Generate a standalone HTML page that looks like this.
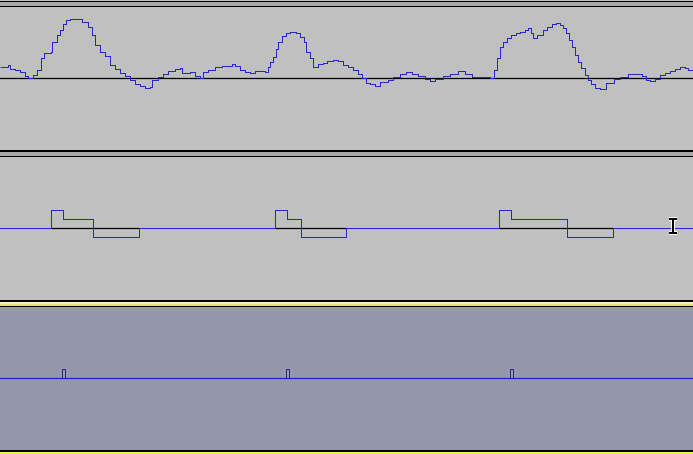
<!DOCTYPE html>
<html><head><meta charset="utf-8"><style>
html,body{margin:0;padding:0;width:693px;height:454px;overflow:hidden;background:#c0c0c0}
svg{display:block}
</style></head><body>
<svg id="c" width="693" height="454">
<rect x="0" y="0" width="693" height="454" fill="#c0c0c0"/>
<rect x="0" y="1" width="693" height="1" fill="#000"/>
<rect x="0" y="2" width="693" height="4" fill="#a8a8a8"/>
<rect x="0" y="6" width="693" height="1" fill="#000"/>
<g id="t1"></g>
<rect x="0" y="150" width="693" height="2" fill="#000"/>
<rect x="0" y="152" width="693" height="4" fill="#a8a8a8"/>
<rect x="0" y="156" width="693" height="1" fill="#000"/>
<g id="t2"></g>
<rect x="0" y="300" width="693" height="2" fill="#000"/>
<rect x="0" y="302" width="693" height="2" fill="#f4f0b0"/>
<rect x="0" y="304" width="693" height="2" fill="#e8e070"/>
<rect x="0" y="306" width="693" height="1" fill="#000"/>
<rect x="0" y="307" width="693" height="143" fill="#9497ab"/>
<g id="t3"></g>
<rect x="0" y="450" width="693" height="2" fill="#000"/>
<rect x="0" y="452" width="693" height="2" fill="#f0f040"/>
<g stroke="#000" stroke-width="2" fill="none">
<path d="M669 219h8M669 233h8M673 219v14" stroke="#fff" stroke-width="4"/>
<path d="M669 219h8M669 233h8M673 219v14"/>
</g>
</svg>
<script>
const waveX=[0,8,10,15,20,25,28,33,37,41,44,51,52,57,60,63,66,70,82,88,92,95,100,105,110,115,120,125,130,135,140,145,150,152,158,163,168,175,180,182,190,195,200,203,208,215,222,232,235,240,245,250,255,265,268,270,273,276,278,282,286,290,296,300,304,306,310,313,318,323,327,333,338,343,348,353,358,362,366,370,375,380,388,393,400,406,412,418,425,430,435,443,450,458,465,472,478,485,490,494,497,500,503,507,511,516,520,525,528,531,533,537,543,547,552,556,560,563,566,569,572,575,578,581,585,588,591,595,600,606,612,614,620,628,635,642,646,650,655,660,665,670,675,680,685,688,693];
const waveV=[11,13,9,8,6,2,0,3,8,20,25,26,36,43,48,54,58,59,56,51,43,33,26,22,13,9,5,2,-2,-6,-8,-10,-9,-2,1,4,7,9,10,5,6,2,0,6,8,11,12,14,12,8,6,5,7,6,11,16,21,29,36,42,45,46,45,41,36,26,20,11,14,15,17,18,17,13,11,8,4,0,-5,-6,-8,-4,-2,1,4,6,4,2,-1,-3,-1,2,4,7,4,1,1,1,0,8,20,31,36,40,43,45,46,48,50,45,40,43,48,51,54,55,53,50,45,38,31,23,16,10,3,-2,-6,-10,-11,-5,-5,-1,1,4,4,2,-2,-3,-1,3,5,7,9,11,10,8,7];
const envStarts=[51,275,499];
const envWidths=[[12,30,46],[12,14,45],[12,56,46]];
const envLevels=[2,1,-1];
const labelX=[64,288,512];

const NS='http://www.w3.org/2000/svg';
function mk(t,a,p){const e=document.createElementNS(NS,t);for(const k in a)e.setAttribute(k,a[k]);p.appendChild(e);return e;}
const yW=v=>78.5-v, yE=v=>228.5-v*9;
const t1=document.getElementById('t1');
const base1=mk('line',{x1:0,x2:693,y1:78.5,y2:78.5,stroke:'#000','stroke-width':1.3},t1);


let d='M'+(waveX[0]+0.5)+' '+yW(waveV[0]);
for(let i=1;i<waveX.length;i++){d+='H'+(waveX[i]+0.5)+'V'+yW(waveV[i]);}
const wp=mk('path',{d:d,fill:'none',stroke:'#2828c8','stroke-width':1.4,'shape-rendering':'crispEdges'},t1);


const t2=document.getElementById('t2');
let d2='M0 '+yE(0);
envStarts.forEach((s,i)=>{
  let x=s+0.5; let end=s+0.5+envWidths[i].reduce((a,b)=>a+b,0);
  const bl=mk('line',{x1:s+0.5,x2:end,y1:228.5,y2:228.5,stroke:'#000','stroke-width':1.3},t2);
  
  
  d2+='H'+(s+0.5);
  envWidths[i].forEach((w,j)=>{d2+='V'+yE(envLevels[j])+'H'+(x+w);x+=w;});
  d2+='V'+yE(0);
});
d2+='H693';
const ep=mk('path',{d:d2,fill:'none',stroke:'#2828c8','stroke-width':1.3,'shape-rendering':'crispEdges'},t2);


const t3=document.getElementById('t3');
const l3=mk('line',{x1:0,x2:693,y1:378.5,y2:378.5,stroke:'#2020d0','stroke-width':1.3},t3);


labelX.forEach(x=>{
  const m=mk('path',{d:'M'+(x-1.5)+' 378V369.5H'+(x+1.5)+'V378',fill:'none',stroke:'#303080','stroke-width':1},t3);
  
  
});
</script>
</body></html>
